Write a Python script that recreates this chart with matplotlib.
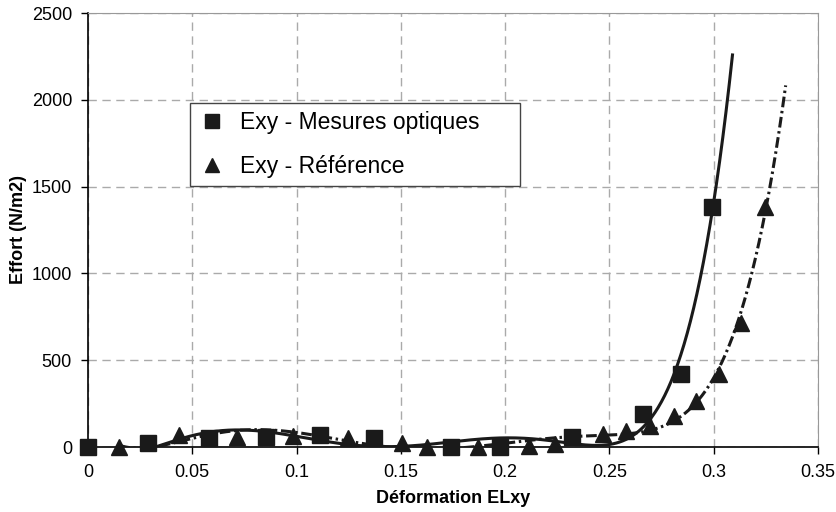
import numpy as np
import matplotlib.pyplot as plt

# Exy - Mesures optiques
x_opt = [0, 0.0286, 0.0579, 0.0852, 0.111, 0.137, 0.174, 0.1974, 0.2319, 0.2663, 0.2844, 0.299]
y_opt = [0, 23, 52, 55, 69, 52, 0, 0, 58, 188, 423, 1381]
# Exy - Référence
x_ref = [0.015, 0.0434, 0.0712, 0.0982, 0.1247, 0.1505, 0.1625, 0.187, 0.2115, 0.2237,
         0.2467, 0.258, 0.2696, 0.281, 0.2913, 0.3023, 0.313, 0.3245]
y_ref = [0, 69, 60, 63, 52, 23, 0, 0, 6, 19, 73, 92, 121, 179, 265, 419, 717, 1381]

x_ticks = [0, 0.05, 0.1, 0.15, 0.2, 0.25, 0.3, 0.35]
x_tick_labels = ['0', '0.05', '0.1', '0.15', '0.2', '0.25', '0.3', '0.35']
y_ticks = [0, 500, 1000, 1500, 2000, 2500]

plt.rcParams['font.family'] = ['Liberation Sans', 'DejaVu Sans']
col = '#1a1a1a'

fig = plt.figure(figsize=(8.36, 5.12), dpi=100)
ax = fig.add_axes([88 / 836, 65 / 512, 730 / 836, 434 / 512])

# courbes de tendance polynomiales (ordre 6), prolongées de 0.01 vers l'avant
xo, yo = np.array(x_opt), np.array(y_opt)
xs = np.linspace(xo[0], xo[-1] + 0.01, 400)
ax.plot(xs, np.polyval(np.polyfit(xo, yo, 6), xs), color=col, lw=2.2, zorder=3)

xr, yr = np.array(x_ref), np.array(y_ref)
xs2 = np.linspace(xr[0], xr[-1] + 0.01, 400)
ax.plot(xs2, np.polyval(np.polyfit(xr, yr, 6), xs2), color=col, lw=2.2, zorder=3,
        dashes=(3.5, 1.2, 0.8, 1.2))

# points
ax.plot(x_opt, y_opt, 's', color=col, ms=11, zorder=4, clip_on=False)
ax.plot(x_ref, y_ref, '^', color=col, ms=11, zorder=4, clip_on=False)

ax.set_xlim(0, 0.35)
ax.set_ylim(0, 2500)
ax.set_xticks(x_ticks)
ax.set_xticklabels(x_tick_labels)
ax.set_yticks(y_ticks)
ax.tick_params(labelsize=13, length=5, width=1, colors='black')
ax.tick_params(axis='x', pad=7)
ax.tick_params(axis='y', pad=6.5)
ax.grid(True, color='#aaaaaa', ls=(0, (6, 4)), lw=1)
ax.set_axisbelow(True)
for s in ['top', 'right']:
    ax.spines[s].set_color('#999999')
for s in ['left', 'bottom']:
    ax.spines[s].set_color('black')
    ax.spines[s].set_linewidth(1.2)

ax.set_xlabel('Déformation ELxy', fontsize=13, fontweight='bold', labelpad=7)
ax.set_ylabel('Effort (N/m2)', fontsize=13, fontweight='bold', labelpad=3)

h1 = plt.Line2D([], [], marker='s', ls='none', color=col, ms=10)
h2 = plt.Line2D([], [], marker='^', ls='none', color=col, ms=10)
leg = ax.legend([h1, h2], ['Exy - Mesures optiques', 'Exy - Référence'],
                loc='upper left', bbox_to_anchor=(0.1397, 0.5968, 0.452, 0.1958),
                mode='expand', fontsize=16.5, fancybox=False, framealpha=1,
                edgecolor='#444444', borderpad=0.35, handlelength=1.2,
                handletextpad=0.65, labelspacing=0.9, borderaxespad=0)
leg.get_frame().set_linewidth(1)

fig.savefig('out.png', dpi=100)
